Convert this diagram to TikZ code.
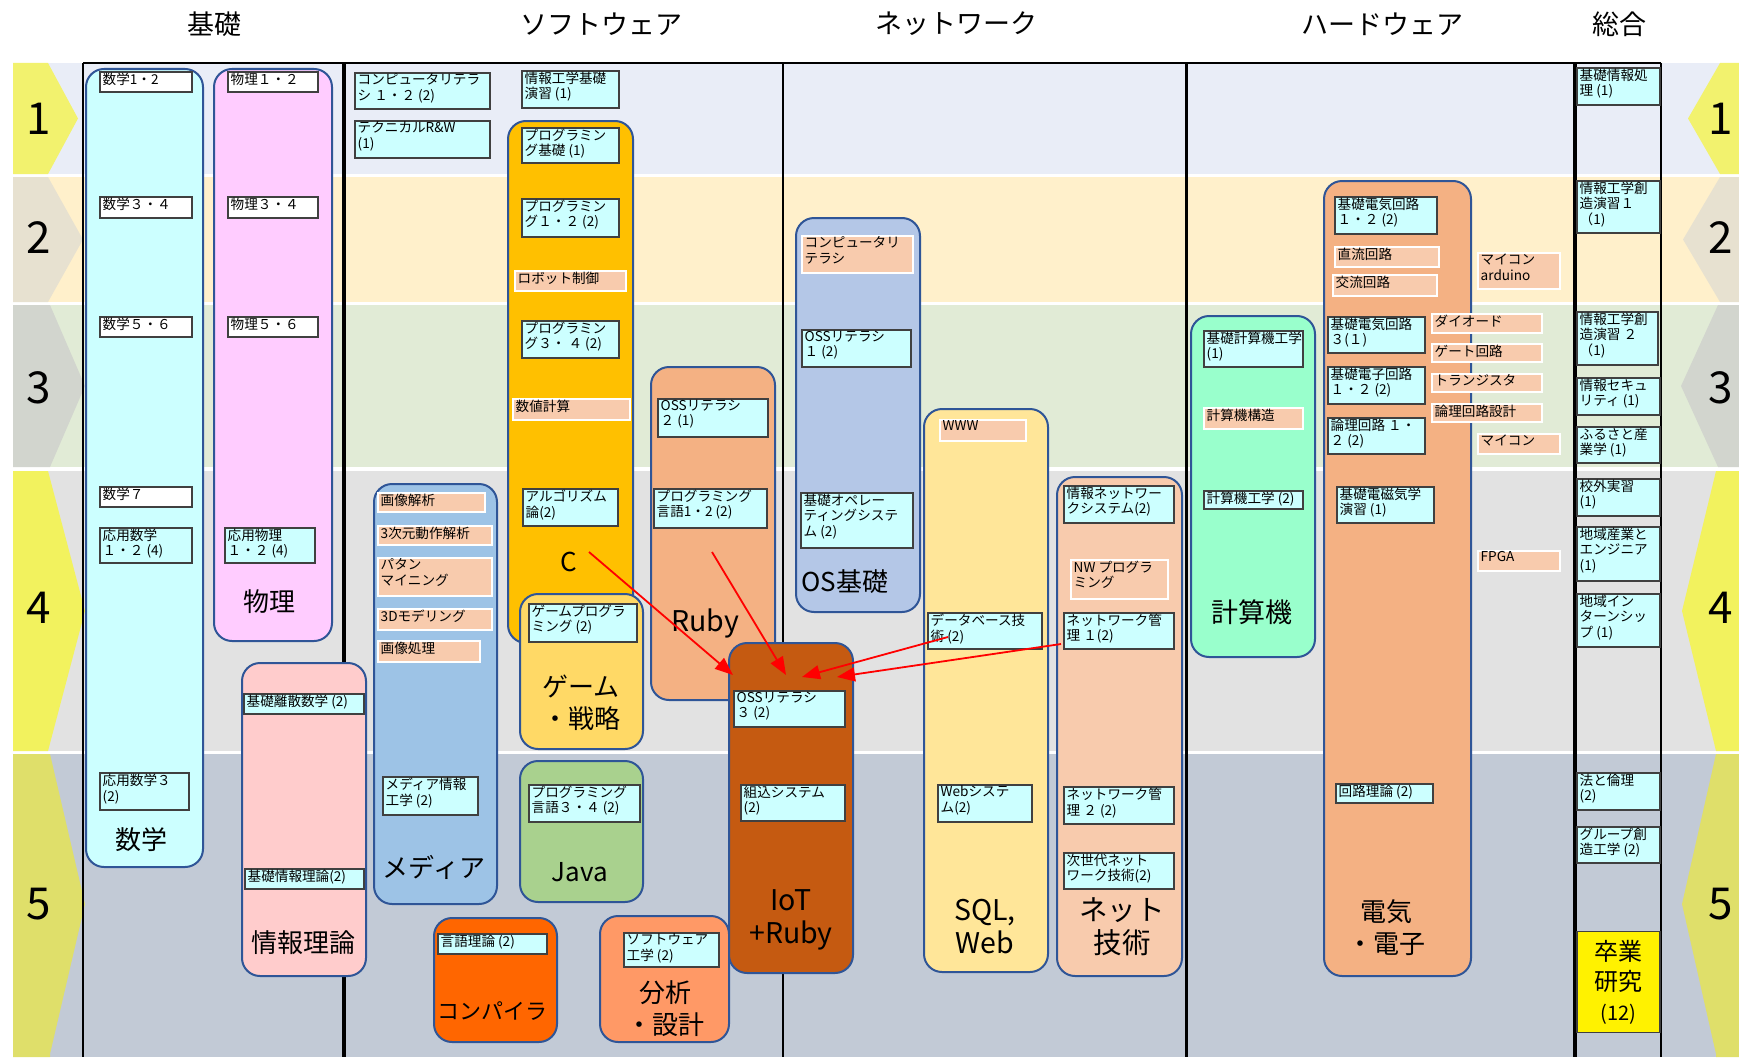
\documentclass[tikz,border=0pt]{standalone}
\usepackage{fontspec}
\setmainfont{Noto Sans CJK JP}
\usetikzlibrary{arrows.meta}
\definecolor{bandA}{HTML}{E9EDF7}
\definecolor{bandB}{HTML}{FFF0CB}
\definecolor{bandC}{HTML}{E1EBD6}
\definecolor{bandD}{HTML}{E2E2E2}
\definecolor{bandE}{HTML}{C2CAD6}
\definecolor{chevA}{HTML}{F2F26E}
\definecolor{chevB}{HTML}{E7E1D0}
\definecolor{chevC}{HTML}{D2D5CE}
\definecolor{chevD}{HTML}{F2F25E}
\definecolor{chevE}{HTML}{DFDF6A}
\definecolor{catline}{HTML}{2F5597}
\definecolor{cyanc}{HTML}{CCFFFF}
\definecolor{peach}{HTML}{F8CBAD}
\definecolor{cMath}{HTML}{CCFFFF}
\definecolor{cPhys}{HTML}{FFCCFF}
\definecolor{cInfo}{HTML}{FFCCCC}
\definecolor{cMedia}{HTML}{9DC3E6}
\definecolor{cC}{HTML}{FFC000}
\definecolor{cRuby}{HTML}{F4B183}
\definecolor{cGame}{HTML}{FFD966}
\definecolor{cJava}{HTML}{A9D18E}
\definecolor{cComp}{HTML}{FF6600}
\definecolor{cAna}{HTML}{FF9966}
\definecolor{cIoT}{HTML}{C55A11}
\definecolor{cOS}{HTML}{B4C7E7}
\definecolor{cSQL}{HTML}{FFE699}
\definecolor{cNet}{HTML}{F8CBAD}
\definecolor{cCalc}{HTML}{99FFCC}
\definecolor{cElec}{HTML}{F4B183}
\definecolor{arrred}{HTML}{FF0000}
\newcommand{\crs}[7]{%
  \pgfmathsetmacro{\bw}{#5-#3}\pgfmathsetmacro{\bh}{#6-#4}%
  \node[#1, minimum width=\bw pt, minimum height=\bh pt] (#2) at ({(#3+#5)/2},{(#4+#6)/2}) {};%
  \node[txt] (#2t) at ([xshift=2.5pt,yshift=-0.5pt]#2.north west) {#7};%
}
\newcommand{\catbox}[6]{%
  \pgfmathsetmacro{\bw}{#5-#3}\pgfmathsetmacro{\bh}{#6-#4}%
  \node[cat, fill=#1, minimum width=\bw pt, minimum height=\bh pt] (#2) at ({(#3+#5)/2},{(#4+#6)/2}) {};%
}
\begin{document}
\begin{tikzpicture}[x=1pt,y=-1pt,
  course/.style={draw=black!75, fill=cyanc, line width=1.1pt, inner sep=0pt, outer sep=0pt},
  topic/.style={draw=white, fill=peach, line width=1.1pt, inner sep=0pt, outer sep=0pt},
  txt/.style={anchor=north west, inner sep=0pt, align=left, font=\fontsize{13.6}{15.8}\selectfont},
  cat/.style={draw=catline, line width=2pt, rounded corners=18pt, inner sep=0pt},
  big/.style={inner sep=0pt, align=center, font=\fontsize{26}{32}\selectfont},
  bigger/.style={inner sep=0pt, align=center, font=\fontsize{28.5}{33}\selectfont},
  head/.style={inner sep=0pt, font=\fontsize{27}{30}\selectfont},
  num/.style={inner sep=0pt, font=\fontsize{44}{50}\selectfont},
  sep/.style={draw=black, line width=2.5pt},
  redarrow/.style={draw=arrred, line width=1.8pt, -{Triangle[length=18pt,width=14pt]}}
]
\useasboundingbox (0,0) rectangle (1739,1057);
\fill[white] (0,0) rectangle (1739,1057);
% bands
\fill[bandA] (13,63) rectangle (1739,174);
\fill[bandB] (13,177) rectangle (1739,302);
\fill[bandC] (13,305) rectangle (1739,467);
\fill[bandD] (13,471) rectangle (1739,751);
\fill[bandE] (13,754) rectangle (1739,1057);
% left chevrons
\fill[chevA] (13,63) -- (48,63) -- (78,118.5) -- (48,174) -- (13,174) -- cycle;
\fill[chevB] (13,177) -- (48,177) -- (83,239.5) -- (48,302) -- (13,302) -- cycle;
\fill[chevC] (13,305) -- (50,305) -- (85,386) -- (50,467) -- (13,467) -- cycle;
\fill[chevD] (13,471) -- (48,471) -- (85,611) -- (48,751) -- (13,751) -- cycle;
\fill[chevE] (13,754) -- (50,754) -- (85,904) -- (50,1054) -- (50,1057) -- (13,1057) -- cycle;
% right chevrons
\fill[chevA] (1739,63) -- (1720,63) -- (1688,118.5) -- (1720,174) -- (1739,174) -- cycle;
\fill[chevB] (1739,177) -- (1720,177) -- (1683,239.5) -- (1720,302) -- (1739,302) -- cycle;
\fill[chevC] (1739,305) -- (1718,305) -- (1681,386) -- (1718,467) -- (1739,467) -- cycle;
\fill[chevD] (1739,471) -- (1716,471) -- (1682,611) -- (1716,751) -- (1739,751) -- cycle;
\fill[chevE] (1739,754) -- (1716,754) -- (1682,904) -- (1716,1054) -- (1716,1057) -- (1739,1057) -- cycle;
% row numbers
\node[num] (nL1) at (39,119) {1};
\node[num] (nL2) at (39,238) {2};
\node[num] (nL3) at (39,388) {3};
\node[num] (nL4) at (39,608) {4};
\node[num] (nL5) at (39,904) {5};
\node[num] (nR1) at (1721,119) {1};
\node[num] (nR2) at (1721,238) {2};
\node[num] (nR3) at (1721,388) {3};
\node[num] (nR4) at (1721,608) {4};
\node[num] (nR5) at (1721,904) {5};
% headers
\node[head] (h1) at (214,24) {基礎};
\node[head] (h2) at (601,24) {ソフトウェア};
\node[head] (h3) at (956,24) {ネットワーク};
\node[head] (h4) at (1382,24) {ハードウェア};
\node[head] (h5) at (1619,24) {総合};
% separators
\draw[sep] (83,63) -- (1661,63);
\draw[sep] (83,63) -- (83,1057);
\draw[sep, line width=3.5pt] (344,63) -- (344,1057);
\draw[sep] (783,63) -- (783,1057);
\draw[sep, line width=3pt] (1186,63) -- (1186,1057);
\draw[sep, line width=3.5pt] (1575,63) -- (1575,1057);
\draw[sep] (1661,63) -- (1661,1057);
% category boxes
\catbox{cMath}{kMath}{86}{69}{203}{867}
\catbox{cPhys}{kPhys}{214}{69}{332}{641}
\catbox{cInfo}{kInfo}{242}{663}{366}{976}
\catbox{cMedia}{kMedia}{374}{484}{497}{904}
\catbox{cC}{kC}{508}{121}{633}{643}
\catbox{cRuby}{kRuby}{651}{367}{775}{700}
\catbox{cGame}{kGame}{520}{594}{643}{749}
\catbox{cJava}{kJava}{520}{761}{643}{902}
\catbox{cComp}{kComp}{434}{918}{557}{1042}
\catbox{cAna}{kAna}{600}{916}{729}{1042}
\catbox{cIoT}{kIoT}{729}{643}{853}{973}
\catbox{cOS}{kOS}{796}{218}{920}{612}
\catbox{cSQL}{kSQL}{924}{409}{1048}{972}
\catbox{cNet}{kNet}{1057}{477}{1182}{976}
\catbox{cCalc}{kCalc}{1191}{316}{1315}{657}
\catbox{cElec}{kElec}{1324}{181}{1471}{976}
% basics
\crs{course,fill=white}{m12}{100}{72}{192}{92}{数学1・2}
\crs{course,fill=white}{m34}{100}{197}{192}{218}{数学３・４}
\crs{course,fill=white}{m56}{100}{317}{192}{337}{数学５・６}
\crs{course,fill=white}{m7}{100}{487}{192}{507}{数学７}
\crs{course}{am12}{100}{528}{192}{563}{応用数学\\ １・２ (4)}
\crs{course}{am3}{100}{773}{189}{810}{応用数学３\\(2)}
\crs{course,fill=white}{p12}{228}{72}{318}{92}{物理１・２}
\crs{course,fill=white}{p34}{228}{197}{318}{218}{物理３・４}
\crs{course,fill=white}{p56}{228}{317}{318}{337}{物理５・６}
\crs{course}{ap12}{225}{528}{315}{563}{応用物理\\ １・２ (4)}
\crs{course}{risan}{244}{694}{364}{714}{基礎離散数学 (2)}
\crs{course}{kjr}{245}{869}{364}{889}{基礎情報理論(2)}
% software
\crs{course}{cl12}{355}{73}{490}{109}{コンピュータリテラ\\シ １・２ (2)}
\crs{course}{trw}{355}{121}{490}{158}{テクニカルR\&W\\(1)}
\crs{course}{jkke}{522}{71}{619}{108}{情報工学基礎\\演習 (1)}
\crs{course}{pk}{522}{128}{619}{163}{プログラミン\\グ基礎 (1)}
\crs{course}{p12c}{522}{199}{619}{237}{プログラミン\\グ１・２ (2)}
\crs{topic}{robo}{515}{271}{626}{291}{ロボット制御}
\crs{course}{p34c}{522}{321}{619}{358}{プログラミン\\グ３・ ４ (2)}
\crs{topic}{suchi}{513}{399}{630}{420}{数値計算}
\crs{course}{oss2}{658}{399}{768}{437}{OSSリテラシ\\２ (1)}
\crs{course}{algo}{523}{489}{618}{526}{アルゴリズム\\論(2)}
\crs{course}{pl12}{654}{489}{767}{528}{プログラミング\\言語1・2 (2)}
\crs{course}{gamep}{529}{604}{637}{642}{ゲームプログラ\\ミング (2)}
\crs{course}{pl34}{529}{785}{640}{822}{プログラミング\\言語３・４ (2)}
\crs{course}{gengo}{438}{934}{547}{954}{言語理論 (2)}
\crs{course}{swe}{624}{933}{719}{967}{ソフトウェア\\工学 (2)}
\crs{course}{mie}{383}{777}{478}{815}{メディア情報\\工学 (2)}
\crs{topic}{gk}{378}{493}{485}{512}{画像解析}
\crs{topic}{sd}{378}{526}{492}{545}{3次元動作解析}
\crs{topic}{pm}{378}{558}{492}{596}{パタン\\マイニング}
\crs{topic}{tdm}{378}{609}{492}{630}{3Dモデリング}
\crs{topic}{gs}{378}{641}{480}{662}{画像処理}
\crs{course}{oss3}{734}{691}{845}{727}{OSSリテラシ\\３ (2)}
\crs{course}{kumi}{741}{785}{845}{821}{組込システム\\(2)}
% network
\crs{topic}{clN}{802}{236}{913}{273}{コンピュータリ\\テラシ}
\crs{course}{oss1}{802}{330}{911}{367}{OSSリテラシ\\ １ (2)}
\crs{course}{bos}{801}{493}{913}{548}{基礎オペレー\\ティングシステ\\ム (2)}
\crs{topic}{www}{940}{420}{1026}{441}{WWW}
\crs{course}{dbt}{928}{613}{1042}{649}{データベース技\\術 (2)}
\crs{course}{websys}{938}{785}{1032}{822}{Webシステ\\ム(2)}
\crs{course}{jns}{1064}{486}{1174}{523}{情報ネットワー\\クシステム(2)}
\crs{topic}{nwp}{1071}{560}{1168}{599}{NW プログラ\\ミング}
\crs{course}{nm1}{1064}{613}{1174}{649}{ネットワーク管\\理 １(2)}
\crs{course}{nm2}{1064}{787}{1174}{824}{ネットワーク管\\理 ２ (2)}
\crs{course}{jnt}{1064}{853}{1174}{889}{次世代ネット\\ワーク技術(2)}
% hardware
\crs{course}{kkk}{1204}{331}{1303}{367}{基礎計算機工学\\(1)}
\crs{topic}{kkz}{1204}{408}{1303}{429}{計算機構造}
\crs{course}{kk2}{1204}{491}{1303}{509}{計算機工学 (2)}
\crs{course}{kd12}{1335}{197}{1437}{234}{基礎電気回路\\ １・２ (2)}
\crs{topic}{dc}{1335}{247}{1439}{267}{直流回路}
\crs{topic}{ac}{1333}{275}{1437}{296}{交流回路}
\crs{topic}{arduino}{1478}{253}{1560}{289}{マイコン\\arduino}
\crs{course}{kd3}{1328}{317}{1425}{353}{基礎電気回路\\３(１)}
\crs{topic}{diode}{1432}{314}{1542}{333}{ダイオード}
\crs{topic}{gate}{1432}{344}{1542}{362}{ゲート回路}
\crs{topic}{tr}{1432}{374}{1542}{392}{トランジスタ}
\crs{topic}{lcd}{1432}{404}{1542}{422}{論理回路設計}
\crs{topic}{mc}{1478}{434}{1560}{454}{マイコン}
\crs{course}{kde}{1328}{367}{1425}{404}{基礎電子回路\\１・２ (2)}
\crs{course}{lc}{1328}{418}{1425}{454}{論理回路 １・\\２ (2)}
\crs{course}{emg}{1337}{487}{1434}{523}{基礎電磁気学\\演習 (1)}
\crs{topic}{fpga}{1478}{551}{1560}{571}{FPGA}
\crs{course}{kr}{1336}{784}{1433}{803}{回路理論 (2)}
% general
\crs{course}{kjs}{1577}{68}{1660}{105}{基礎情報処\\理 (1)}
\crs{course}{js1}{1577}{181}{1660}{233}{情報工学創\\造演習１\\（1)}
\crs{course}{js2}{1577}{312}{1658}{365}{情報工学創\\造演習 ２\\（1)}
\crs{course}{sec}{1577}{378}{1660}{415}{情報セキュ\\リティ (1)}
\crs{course}{furu}{1577}{427}{1660}{463}{ふるさと産\\業学 (1)}
\crs{course}{kg}{1577}{479}{1660}{516}{校外実習\\(1)}
\crs{course}{che}{1577}{527}{1660}{581}{地域産業と\\エンジニア\\(1)}
\crs{course}{cin}{1577}{594}{1660}{647}{地域イン\\ターンシッ\\プ (1)}
\crs{course}{hr}{1577}{773}{1660}{810}{法と倫理\\(2)}
\crs{course}{grp}{1577}{827}{1660}{863}{グループ創\\造工学 (2)}
\node[course, fill=yellow, minimum width=83pt, minimum height=101pt] (sotsu) at (1618.5,982) {};
\node[inner sep=0pt, align=center, font=\fontsize{24}{30}\selectfont] (sotsut) at (sotsu.center) {卒業\\研究\\{\fontsize{20}{24}\selectfont (12)}};
% big labels
\node[big] (lMath) at (141,840) {数学};
\node[big] (lPhys) at (269,602) {物理};
\node[big] (lInfo) at (303,943) {情報理論};
\node[big] (lMedia) at (434,867) {メディア};
\node[big] (lC) at (569,562) {C};
\node[bigger] (lRuby) at (705,623) {Ruby};
\node[big] (lGame) at (581,703) {ゲーム\\・戦略};
\node[big] (lJava) at (580,872) {Java};
\node[big, font=\fontsize{22}{26}\selectfont] (lComp) at (492,1011) {コンパイラ};
\node[big] (lAna) at (665,1009) {分析\\・設計};
\node[bigger] (lIoT) at (791,920) {IoT\\+Ruby};
\node[big] (lOS) at (845,582) {OS基礎};
\node[bigger] (lSQL) at (985,927) {SQL,\\Web};
\node[bigger] (lNet) at (1122,927) {ネット\\技術};
\node[big, font=\fontsize{27}{32}\selectfont] (lCalc) at (1252,612) {計算機};
\node[big] (lElec) at (1386,928) {電気\\・電子};
% arrows
\coordinate (aC) at (589,552);
\coordinate (aRuby) at (712,552);
\coordinate (aDB) at (948,637);
\coordinate (aNM) at (1061,644);
\coordinate (tC) at (733,675);
\coordinate (tRuby) at (786,675);
\coordinate (tDB) at (802,677);
\coordinate (tNM) at (837,677);
\draw[redarrow] (aC) -- (tC);
\draw[redarrow] (aRuby) -- (tRuby);
\draw[redarrow] (aDB) -- (tDB);
\draw[redarrow] (aNM) -- (tNM);
\end{tikzpicture}
\end{document}
